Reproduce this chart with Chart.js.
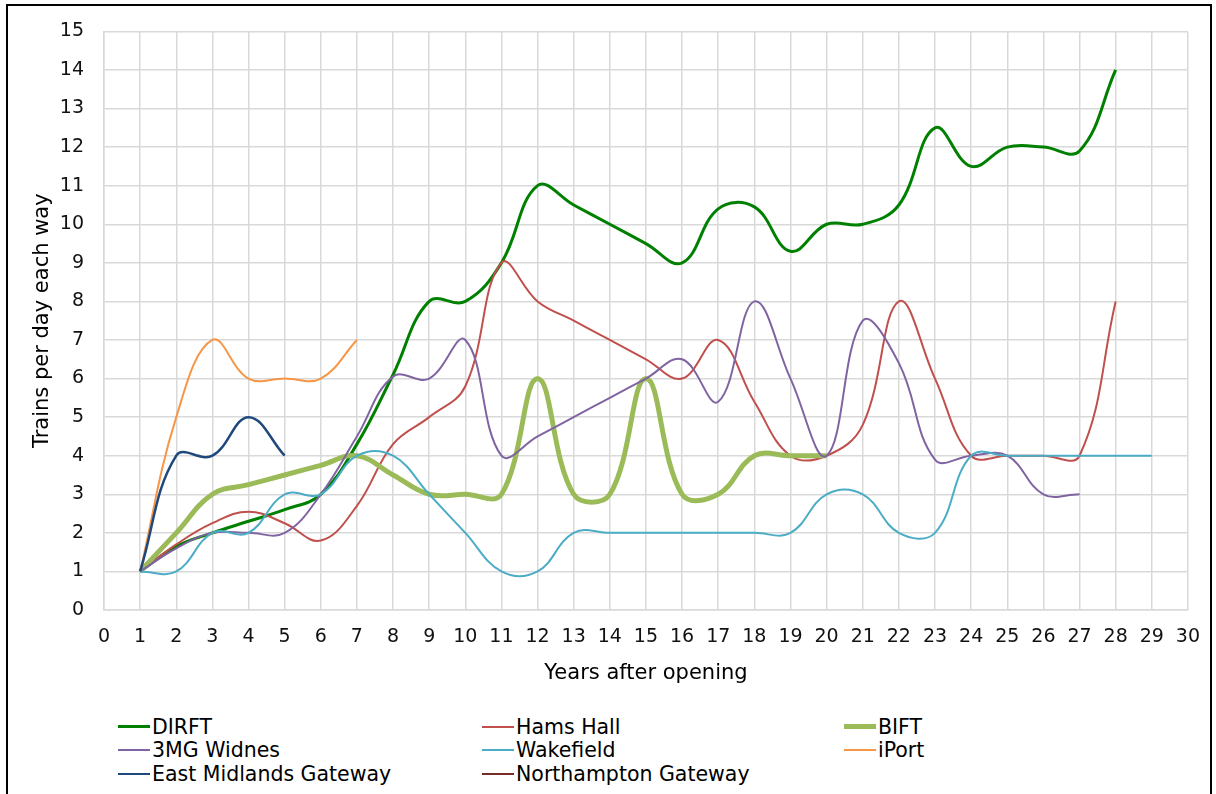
<!DOCTYPE html>
<html>
<head>
<meta charset="utf-8">
<script src="https://cdn.jsdelivr.net/npm/chart.js@4.4.1/dist/chart.umd.min.js"></script>
<style>
  body { margin: 0; background: #fff; font-family: "DejaVu Sans", sans-serif; }
  #frame { position: absolute; left: 6px; top: 4px; width: 1206px; height: 800px; border: 2px solid #000; box-sizing: border-box; }
  #wrap { position: absolute; left: 0; top: 0; width: 1216px; height: 700px; }
  #legend { position: absolute; left: 118px; top: 715px; display: grid;
            grid-template-columns: 364px 362px 300px; grid-auto-rows: 23.5px; }
  .item { display: flex; align-items: center; font-size: 20.5px; color: #000; white-space: nowrap; }
  .swatch { display: inline-block; width: 32px; margin-right: 2px; }
</style>
</head>
<body>
<div id="frame"></div>
<div id="wrap"><canvas id="chart"></canvas></div>
<div id="legend"></div>
<script>
// every series starts at year 1 after opening
const firstYear = 1;

const seriesNames = ["DIRFT", "Hams Hall", "BIFT", "3MG Widnes", "Wakefield", "iPort",
                     "East Midlands Gateway", "Northampton Gateway"];

const dirft = [1, 1.65, 2.0, 2.3, 2.6, 3.0, 4.3, 6.1, 8.0, 8.0, 9.0, 11.0, 10.5, 10.0,
               9.5, 9.0, 10.4, 10.45, 9.3, 10.0, 10.0, 10.5, 12.5, 11.5, 12.0, 12.0, 11.9, 14.0];
const hamsHall = [1, 1.7, 2.25, 2.55, 2.25, 1.8, 2.7, 4.3, 5.0, 5.8, 9.0, 8.0, 7.5, 7.0,
                  6.5, 6.0, 7.0, 5.4, 4.0, 4.0, 4.8, 8.0, 6.0, 4.0, 4.0, 4.0, 4.0, 8.0];
const bift = [1, 2, 3, 3.25, 3.5, 3.75, 4, 3.5, 3, 3, 3, 6, 3, 3, 6, 3, 3, 4, 4, 4];
const widnes = [1, 1.6, 2, 2, 2, 3, 4.5, 6.05, 6, 7, 4, 4.5, 5, 5.5, 6, 6.5, 5.4, 8, 6, 4,
                7.5, 6.4, 3.9, 4, 4, 3, 3];
const wakefield = [1, 1, 2, 2, 3, 3, 4, 4, 3, 2, 1, 1, 2, 2, 2, 2, 2, 2, 2, 3, 3, 2, 2,
                   4, 4, 4, 4, 4, 4];
const iport = [1, 5, 7, 6, 6, 6, 7];
const eastMidlands = [1, 4, 4, 5, 4];
const northampton = [];

const seriesValues = [dirft, hamsHall, bift, widnes, wakefield, iport, eastMidlands, northampton];
const seriesColors = ["#008000", "#C0504D", "#9BBB59", "#8064A2", "#4BACC6", "#F79646",
                      "#1F497D", "#772C2A"];
const seriesWidths = [3, 2, 5, 2, 2, 2, 2.5, 2];

const xTicks = { min: 0, max: 30, step: 1 };
const yTicks = { min: 0, max: 15, step: 1 };

const datasets = seriesNames.map((name, i) => ({
    label: name,
    data: seriesValues[i].map((v, j) => ({ x: firstYear + j, y: v })),
    borderColor: seriesColors[i],
    backgroundColor: seriesColors[i],
    borderWidth: seriesWidths[i],
    pointRadius: 0,
    tension: 0.4,
    fill: false,
    order: seriesNames.length - i
}));

const tickFont = { family: "DejaVu Sans", size: 19 };
const titleFont = { family: "DejaVu Sans", size: 21 };
const gridStyle = { color: "#d9d9d9", lineWidth: 1.5, drawTicks: false };

const chart = new Chart(document.getElementById("chart"), {
    type: "line",
    data: { datasets },
    options: {
        responsive: true,
        maintainAspectRatio: false,
        animation: false,
        layout: { padding: { top: 28, right: 28, left: 0, bottom: 0 } },
        plugins: { legend: { display: false }, tooltip: { enabled: false } },
        scales: {
            x: {
                type: "linear",
                min: xTicks.min, max: xTicks.max,
                ticks: { stepSize: xTicks.step, font: tickFont, color: "#111", padding: 16, maxRotation: 0, autoSkip: false },
                grid: gridStyle,
                border: { color: "#d9d9d9", width: 1.5 },
                title: { display: true, text: "Years after opening", font: titleFont, color: "#000",
                         padding: { top: 0, bottom: 14 } },
                afterFit: s => { s.height = 90; }
            },
            y: {
                min: yTicks.min, max: yTicks.max,
                ticks: { stepSize: yTicks.step, font: tickFont, color: "#111", padding: 20 },
                grid: gridStyle,
                border: { color: "#d9d9d9", width: 1.5 },
                title: { display: true, text: "Trains per day each way", font: titleFont, color: "#000",
                         padding: { top: 30, bottom: 0 } },
                afterFit: s => { s.width = 104; }
            }
        }
    }
});

// legend in three columns like the original
const legendDiv = document.getElementById("legend");
legendDiv.innerHTML = chart.data.datasets.map(d =>
    `<div class="item"><span class="swatch" style="height:${d.borderWidth}px;background:${d.borderColor}"></span>${d.label}</div>`
).join("");
</script>
</body>
</html>
